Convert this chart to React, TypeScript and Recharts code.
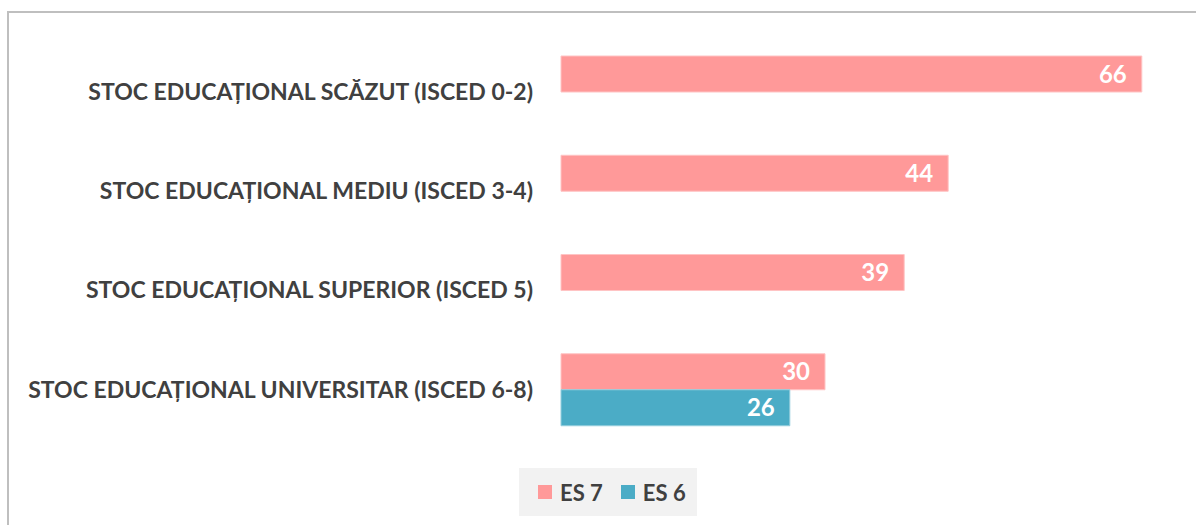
import { BarChart, Bar, XAxis, YAxis, LabelList } from "recharts";

const categories = [
  "STOC EDUCAȚIONAL SCĂZUT (ISCED 0-2)",
  "STOC EDUCAȚIONAL MEDIU (ISCED 3-4)",
  "STOC EDUCAȚIONAL SUPERIOR (ISCED 5)",
  "STOC EDUCAȚIONAL UNIVERSITAR (ISCED 6-8)",
];
const es7 = [66, 44, 39, 30];
const es6: (number | null)[] = [null, null, null, 26];

const data = categories.map((name, i) => ({ name, es7: es7[i], es6: es6[i] }));

const FONT = "Lato, Carlito, Calibri, sans-serif";
const TEXT = "#404040";

const legendItems = [
  { label: "ES 7", color: "#FF9999" },
  { label: "ES 6", color: "#4BACC6" },
];

function LegendBox() {
  return (
    <div
      style={{
        position: "absolute",
        left: 519,
        top: 468,
        width: 178,
        height: 48,
        boxSizing: "border-box",
        display: "flex",
        alignItems: "center",
        gap: 18,
        background: "#F2F2F2",
        paddingLeft: 19,
        fontFamily: FONT,
        fontWeight: 700,
        fontSize: 22,
        color: TEXT,
      }}
    >
      {legendItems.map((it) => (
        <span key={it.label} style={{ display: "flex", alignItems: "center" }}>
          <span style={{ width: 14, height: 14, background: it.color, marginRight: 8, display: "inline-block" }} />
          {it.label}
        </span>
      ))}
    </div>
  );
}

export default function App() {
  return (
    <div style={{ position: "absolute", left: 0, top: 0, width: 1196, height: 525, overflow: "hidden", background: "#fff" }}>
      <div
        style={{
          position: "absolute",
          left: 7,
          top: 11,
          width: 1300,
          height: 700,
          border: "2px solid #BFBFBF",
        }}
      />
      <div style={{ position: "absolute", left: 0, top: 0 }}>
        <BarChart
          width={1196}
          height={525}
          data={data}
          layout="vertical"
          margin={{ top: 42, right: 19, bottom: 86, left: 0 }}
          barGap={0}
          barCategoryGap={14}
        >
          <XAxis type="number" domain={[0, 70]} hide />
          <YAxis
            type="category"
            dataKey="name"
            width={561}
            axisLine={false}
            tickLine={false}
            tickSize={0}
            tickMargin={28}
            tick={{ fill: TEXT, fontSize: 23, fontWeight: 700, fontFamily: FONT }}
          />
          <Bar dataKey="es7" name="ES 7" fill="#FF9999" stroke="#FFC4C4" strokeWidth={1} barSize={36} isAnimationActive={false}>
            <LabelList dataKey="es7" position="insideRight" offset={15} fill="#fff" fontSize={24} fontWeight={700} fontFamily={FONT} />
          </Bar>
          <Bar dataKey="es6" name="ES 6" fill="#4BACC6" stroke="#93CDDD" strokeWidth={1} barSize={36} isAnimationActive={false}>
            <LabelList dataKey="es6" position="insideRight" offset={15} fill="#fff" fontSize={24} fontWeight={700} fontFamily={FONT} />
          </Bar>
        </BarChart>
      </div>
      <LegendBox />
    </div>
  );
}
